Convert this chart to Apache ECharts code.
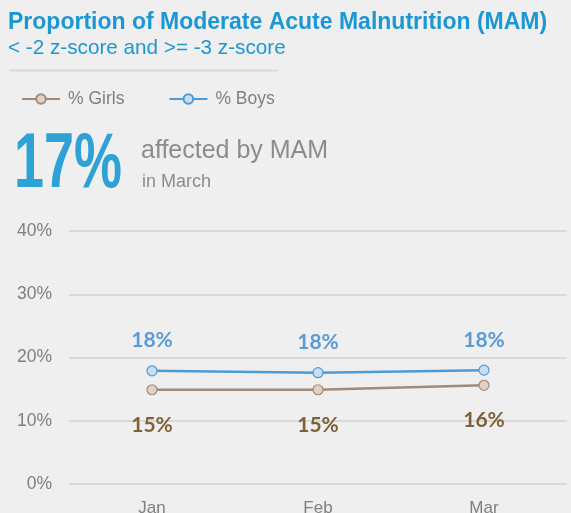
<!DOCTYPE html>
<html><head><meta charset="utf-8">
<script src="https://cdn.jsdelivr.net/npm/echarts@6/dist/echarts.min.js"></script>
<style>html,body{margin:0;padding:0;background:#efefef}#c{width:571px;height:513px}</style>
</head><body><div id="c"></div>
<script>
const months = ['Jan', 'Feb', 'Mar'];
const girls = [14.9, 14.9, 15.6];
const boys = [17.9, 17.6, 18.0];
const girlsLabels = ['15%', '15%', '16%'];
const boysLabels = ['18%', '18%', '18%'];
const yTicks = [0, 10, 20, 30, 40];

const chart = echarts.init(document.getElementById('c'));
const sans = '"Liberation Sans", Arial, sans-serif';
chart.setOption({
  backgroundColor: '#efefef',
  animation: false,
  grid: { left: 69, right: 4, top: 231, bottom: 29, containLabel: false, outerBoundsMode: 'none' },
  legend: {
    left: 16, top: 85, itemWidth: 38, itemHeight: 12, itemGap: 44,
    textStyle: { fontFamily: sans, fontSize: 17.5, color: '#7f7f7f', padding: [0, 0, 0, 3] },
    data: ['% Girls', '% Boys']
  },
  xAxis: {
    type: 'category', data: months, boundaryGap: true,
    axisLine: { show: false }, axisTick: { show: false },
    axisLabel: { color: '#7f7f7f', fontSize: 17, fontFamily: sans, margin: 16 }
  },
  yAxis: {
    type: 'value', min: 0, max: 40, interval: 10,
    axisLine: { show: false }, axisTick: { show: false },
    axisLabel: { color: '#7f7f7f', fontSize: 17.5, fontFamily: sans, margin: 17,
      formatter: v => yTicks.includes(v) ? v + '%' : '' },
    splitLine: { lineStyle: { color: '#d9d9d9', width: 2 } }
  },
  series: [
    {
      name: '% Girls', type: 'line', data: girls, symbol: 'circle', symbolSize: 10,
      lineStyle: { color: '#a08b7b', width: 2.5 },
      itemStyle: { color: '#e3d0c2', borderColor: '#a08b7b', borderWidth: 1.2 },
      label: { show: true, position: 'bottom', distance: 19, formatter: p => girlsLabels[p.dataIndex],
        color: '#7d6139', fontWeight: 'bold', fontSize: 21, fontFamily: 'Lato, "Open Sans", sans-serif' }
    },
    {
      name: '% Boys', type: 'line', data: boys, symbol: 'circle', symbolSize: 10,
      lineStyle: { color: '#4d9bd6', width: 2.5 },
      itemStyle: { color: '#c8def3', borderColor: '#4d9bd6', borderWidth: 1.2 },
      label: { show: true, position: 'top', distance: 14, formatter: p => boysLabels[p.dataIndex],
        color: '#5b9bd5', fontWeight: 'bold', fontSize: 21, fontFamily: 'Lato, "Open Sans", sans-serif' }
    }
  ],
  graphic: [
    { type: 'text', left: 8, top: 11, style: { text: 'Proportion of Moderate Acute Malnutrition (MAM)',
      font: 'bold 23px ' + sans, fill: '#1b97d4' } },
    { type: 'text', left: 8, top: 38, style: { text: '< -2 z-score and >= -3 z-score',
      font: '20.7px ' + sans, fill: '#1b97d4' } },
    { type: 'rect', shape: { x: 9, y: 69.5, width: 269, height: 2 }, style: { fill: '#d9d9d9' } },
    { type: 'text', x: 14, y: 166, scaleX: 0.7, style: { text: '17%', font: 'bold 77px ' + sans,
      fill: '#2ea2d4', verticalAlign: 'middle', align: 'left' } },
    { type: 'text', x: 141, y: 151, style: { text: 'affected by MAM', font: '25px ' + sans,
      fill: '#8c8c8c', verticalAlign: 'middle' } },
    { type: 'text', x: 142, y: 182, style: { text: 'in March', font: '18px ' + sans,
      fill: '#8c8c8c', verticalAlign: 'middle' } }
  ]
});
</script></body></html>
